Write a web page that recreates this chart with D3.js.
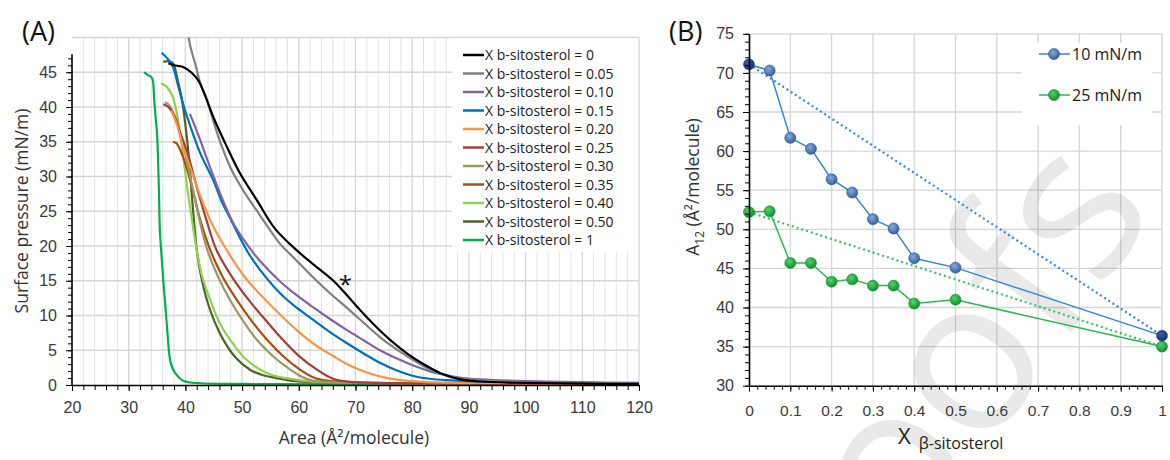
<!DOCTYPE html>
<html>
<head>
<meta charset="utf-8">
<script src="https://cdn.jsdelivr.net/npm/d3@7"></script>
<style>
  body { margin: 0; background: #fff; }
  svg { font-family: "Open Sans", sans-serif; }
  .grid line { stroke: #e2e2e2; stroke-width: 1; }
  .grid line.major { stroke: #d6d6d6; stroke-width: 1.3; }
  .axis path, .axis line { stroke: #000; }
  .axis text { fill: #3a3a3a; }
</style>
</head>
<body>
<svg width="1170" height="460"></svg>
<script>

// ---------- data : panel A, isotherms [area, pressure] ----------
var xSito = ["0", "0.05", "0.10", "0.15", "0.20", "0.25", "0.30", "0.35", "0.40", "0.50", "1"];
var lineColors = ["#000000", "#808080", "#8064a2", "#0070c0", "#f79646", "#a0403c",
                  "#9c9866", "#a5500f", "#92d050", "#4f6228", "#00b050"];

var iso000 = [[37.0,46.3],[38.0,46.0],[39.5,45.8],[41.0,45.0],[42.3,43.8],[43.5,41.6],[44.9,38.6],
  [47.3,34.3],[49.6,30.5],[52.6,26.6],[55.8,22.5],[59.6,19.4],[62.5,17.4],[66.1,15.0],[68.5,12.9],
  [70.8,10.8],[73.5,8.5],[76.1,6.5],[79.0,4.6],[82.0,3.0],[85.0,1.7],[88.5,0.8],[92,0.5],[100,0.3],[110,0.2],[120,0.15]];
var iso005 = [[40.2,52],[40.8,49],[41.8,46],[42.6,43.5],[43.8,41],[45.7,36],[48.0,31.2],[50.5,27.6],
  [53.0,24.6],[56.7,20.3],[59.5,18.0],[62.5,15.5],[65.5,13.2],[68.5,11.1],[71.5,8.9],[74.3,6.9],
  [77.3,5.1],[80.2,3.6],[83.0,2.3],[86.2,1.3],[89.7,0.8],[95,0.55],[105,0.35],[120,0.2]];
var iso010 = [[40.8,39],[42.5,35.5],[44.5,31],[46.5,26.8],[48.5,23.2],[50.8,20.3],[53.2,17.8],
  [56.7,14.9],[59.5,13.0],[62.5,11.2],[65.5,9.5],[68.5,7.9],[71.5,6.4],[74.3,5.0],[77.3,3.8],
  [80.2,2.8],[83.0,2.0],[86.2,1.4],[89,1.0],[92,0.8],[100,0.55],[110,0.4],[120,0.3]];
var iso015 = [[35.8,47.8],[36.8,47.0],[37.8,45.8],[38.8,42.8],[39.9,39.6],[41.4,36.0],[42.8,33.0],
  [44.9,29.5],[46.5,26.2],[47.9,24.0],[49.1,22.0],[51.4,18.6],[54.0,15.7],[56.7,13.2],[59.5,11.2],
  [62.5,9.4],[65.5,7.6],[68.5,6.0],[71.5,4.5],[74.3,3.2],[77.3,2.1],[80.2,1.3],[83,0.9],[86.2,0.7],
  [95,0.45],[110,0.3],[120,0.25]];
var iso020 = [[37.5,39.5],[38.5,37.5],[39.5,34.5],[41.0,31.0],[42.5,27.5],[44.5,23.5],[47.3,19.4],
  [50.5,15.5],[54.4,12.0],[57.0,9.9],[60.2,7.5],[63.0,5.7],[66.0,4.2],[69.0,2.8],[72,1.8],[75,1.1],
  [78,0.7],[82,0.45],[90,0.3],[120,0.15]];
var iso025 = [[36.1,40.4],[37.0,40.0],[38.0,38.8],[39.0,36.5],[40.5,33.0],[42.0,28.5],[43.8,23.5],
  [45.5,19.4],[48.5,15.2],[51.4,12.0],[54.5,9.0],[57.2,6.5],[60.0,4.2],[63.2,2.2],[65,1.3],[66.8,0.7],
  [70,0.4],[80,0.25],[120,0.1]];
var iso030 = [[36.4,40.7],[37.2,40.2],[38.2,38.5],[39.2,35.8],[40.3,32.0],[41.5,27.5],[42.7,23.0],
  [43.8,19.6],[45.8,15.5],[47.9,12.2],[50.2,9.2],[52.6,6.5],[55.5,4.1],[58.5,2.2],[60.5,1.2],[62,0.7],
  [66,0.4],[80,0.2],[120,0.1]];
var iso035 = [[37.8,35.0],[38.4,34.8],[39.5,33.0],[41.0,29.0],[42.7,23.5],[44.4,19.4],[46.6,15.5],
  [49.1,12.2],[51.7,9.2],[54.4,6.5],[57.3,4.1],[60.2,2.2],[62.3,1.2],[64.3,0.7],[68,0.4],[80,0.2],[120,0.1]];
var iso040 = [[35.7,43.4],[36.6,43.0],[37.8,41.4],[38.5,39.0],[39.0,36.7],[39.6,33.0],[40.3,28.5],
  [41.2,23.5],[42.0,19.4],[43.0,15.5],[44.4,12.2],[46.0,9.0],[47.9,6.5],[50.3,4.0],[53.2,2.2],
  [55.8,1.3],[58.5,0.9],[62,0.5],[70,0.3],[120,0.1]];
var iso050 = [[36.1,46.5],[37.0,46.6],[37.8,46.3],[38.6,44.0],[39.4,41.0],[40.3,35.3],[40.8,31.0],
  [41.2,26.6],[41.6,22.8],[42.0,19.4],[42.8,15.5],[43.8,12.2],[45.1,9.2],[46.7,6.5],[48.8,4.0],
  [51.4,2.2],[53.7,1.4],[56.1,1.0],[60,0.5],[70,0.3],[120,0.1]];
var iso100 = [[32.7,45.0],[33.4,44.6],[34.1,44.2],[34.5,41.0],[34.8,38.0],[35.0,36.2],[35.3,29.0],
  [35.5,22.3],[35.8,18.5],[36.1,15.1],[36.5,11.0],[36.8,7.9],[37.3,3.6],[37.8,2.3],[38.2,1.7],
  [39.4,0.7],[40.5,0.4],[42.6,0.25],[50,0.15],[120,0.1]];
var isotherms = [iso000, iso005, iso010, iso015, iso020, iso025, iso030, iso035, iso040, iso050, iso100];

var areaTicks = [20, 30, 40, 50, 60, 70, 80, 90, 100, 110, 120];
var pressTicks = [0, 5, 10, 15, 20, 25, 30, 35, 40, 45];

// ---------- data : panel B, mean molecular area ----------
var xFrac = [0, 0.05, 0.1, 0.15, 0.2, 0.25, 0.3, 0.35, 0.4, 0.5, 1];
var a10 = [71.1, 70.3, 61.7, 60.3, 56.4, 54.7, 51.3, 50.1, 46.3, 45.1, 36.4];
var a25 = [52.2, 52.3, 45.7, 45.7, 43.3, 43.6, 42.8, 42.8, 40.5, 41.0, 35.0];
var fracTicks = [0, 0.1, 0.2, 0.3, 0.4, 0.5, 0.6, 0.7, 0.8, 0.9, 1];
var areaBTicks = [30, 35, 40, 45, 50, 55, 60, 65, 70, 75];

var svg = d3.select("svg");

// gradients for the balls of panel B
var defs = svg.append("defs");
function ball(id, c0, c1) {
  var g = defs.append("radialGradient").attr("id", id)
      .attr("cx", "40%").attr("cy", "35%").attr("r", "65%");
  g.append("stop").attr("offset", "0%").attr("stop-color", c0);
  g.append("stop").attr("offset", "100%").attr("stop-color", c1);
}
ball("gBlue", "#86a9dc", "#36609f");
ball("gNavy", "#3d5f9c", "#14306a");
ball("gGreen", "#4fd46c", "#118f2f");

// ================= panel A =================
var xA = d3.scaleLinear().domain([20, 120]).range([72, 639]);
var yA = d3.scaleLinear().domain([0, 50]).range([385, 37.5]);

var gridA = svg.append("g").attr("class", "grid");
gridA.selectAll("line.v").data(d3.range(22, 121, 2))
  .enter().append("line")
    .attr("class", function(d) { return d % 10 == 0 ? "major" : "minor"; })
    .attr("x1", function(d) { return xA(d); }).attr("x2", function(d) { return xA(d); })
    .attr("y1", yA(50)).attr("y2", yA(0));
gridA.selectAll("line.h").data(d3.range(5, 51, 5))
  .enter().append("line")
    .attr("class", "major")
    .attr("x1", xA(20)).attr("x2", xA(120))
    .attr("y1", function(d) { return yA(d); }).attr("y2", function(d) { return yA(d); });

var lineA = d3.line()
    .x(function(d) { return xA(d[0]); })
    .y(function(d) { return yA(d[1]); })
    .curve(d3.curveCatmullRom.alpha(0.5));

svg.append("clipPath").attr("id", "clipA")
  .append("rect").attr("x", xA(20)).attr("y", yA(50)).attr("width", xA(120) - xA(20)).attr("height", yA(0) - yA(50));

// draw from last to first so black lies on top
svg.append("g").attr("clip-path", "url(#clipA)")
  .selectAll("path").data(isotherms.map(function(d, i) { return {pts: d, i: i}; }).reverse())
  .enter().append("path")
    .attr("d", function(d) { return lineA(d.pts); })
    .attr("fill", "none")
    .attr("stroke", function(d) { return lineColors[d.i]; })
    .attr("stroke-width", 2.2)
    .attr("stroke-linejoin", "round");

// axes A
svg.append("g").attr("class", "axis")
    .attr("transform", "translate(0," + yA(0) + ")")
    .call(d3.axisBottom(xA).tickValues(d3.range(20, 121, 2)).tickSize(5).tickFormat(""))
    .call(function(g) { g.select(".domain").remove(); });
var axA = svg.append("g").attr("class", "axis")
    .attr("transform", "translate(0," + yA(0) + ")")
    .call(d3.axisBottom(xA).tickValues(areaTicks).tickSize(6).tickPadding(11).tickSizeOuter(0));
axA.select(".domain").attr("stroke-width", 1.6);
axA.selectAll("text").style("font-size", "16px");

svg.append("g").attr("class", "axis")
    .attr("transform", "translate(" + xA(20) + ",0)")
    .call(d3.axisLeft(yA).tickValues(d3.range(0, 48, 1)).tickSize(4).tickFormat(""))
    .call(function(g) { g.select(".domain").remove(); });
var ayA = svg.append("g").attr("class", "axis")
    .attr("transform", "translate(" + xA(20) + ",0)")
    .call(d3.axisLeft(yA).tickValues(pressTicks).tickSize(6).tickPadding(9).tickSizeOuter(0));
ayA.select(".domain").attr("d", "M0," + yA(0) + "V" + yA(47.6)).attr("stroke-width", 1.6);
ayA.selectAll("text").style("font-size", "16px");

svg.append("text").attr("x", 354).attr("y", 444).attr("text-anchor", "middle")
    .style("font-size", "17.5px").attr("fill", "#333").text("Area (Å²/molecule)");
svg.append("text").attr("transform", "translate(28,211) rotate(-90)").attr("text-anchor", "middle")
    .style("font-size", "17.5px").attr("fill", "#333").text("Surface pressure (mN/m)");
svg.append("text").attr("x", 22).attr("y", 41).style("font-size", "27px").attr("fill", "#111").text("(A)");
svg.append("text").attr("x", xA(68.2)).attr("y", yA(13.2)).attr("text-anchor", "middle")
    .style("font-size", "24px").attr("fill", "#111").text("*");

// legend A
var legA = svg.append("g");
legA.append("rect").attr("x", 452).attr("y", 38).attr("width", 186).attr("height", 214).attr("fill", "#fff");
var legRow = d3.scaleLinear().domain([0, 10]).range([55, 240]);
legA.selectAll("line").data(xSito).enter().append("line")
    .attr("x1", 463).attr("x2", 484)
    .attr("y1", function(d, i) { return legRow(i); }).attr("y2", function(d, i) { return legRow(i); })
    .attr("stroke", function(d, i) { return lineColors[i]; })
    .attr("stroke-width", 2.5);
legA.selectAll("text").data(xSito).enter().append("text")
    .attr("x", 485).attr("y", function(d, i) { return legRow(i) + 5; })
    .style("font-size", "14px").attr("fill", "#222")
    .text(function(d) { return "X b-sitosterol = " + d; });

// ================= panel B =================
var xB = d3.scaleLinear().domain([0, 1]).range([749, 1162]);
var yB = d3.scaleLinear().domain([30, 75]).range([385.7, 33.8]);

var gridB = svg.append("g").attr("class", "grid");
gridB.selectAll("line.v").data(fracTicks.slice(1))
  .enter().append("line").attr("class", "major")
    .attr("x1", function(d) { return xB(d); }).attr("x2", function(d) { return xB(d); })
    .attr("y1", yB(75)).attr("y2", yB(30));
gridB.selectAll("line.h").data(areaBTicks.slice(1))
  .enter().append("line").attr("class", "major")
    .attr("x1", xB(0)).attr("x2", xB(1))
    .attr("y1", function(d) { return yB(d); }).attr("y2", function(d) { return yB(d); });

// watermark
svg.append("text")
    .attr("transform", "translate(1158,208) rotate(-55)")
    .attr("text-anchor", "end")
    .style("font-size", "215px")
    .attr("fill", "#000").attr("fill-opacity", 0.085)
    .text("Proofs");

var ptsB10 = xFrac.map(function(x, i) { return [x, a10[i]]; });
var ptsB25 = xFrac.map(function(x, i) { return [x, a25[i]]; });
var lineB = d3.line().x(function(d) { return xB(d[0]); }).y(function(d) { return yB(d[1]); });

// ideal mixing lines between pure components
svg.append("path").attr("d", lineB([ptsB10[0], ptsB10[ptsB10.length - 1]]))
    .attr("stroke", "#3a8ad6").attr("stroke-width", 2.2).attr("stroke-dasharray", "2,3").attr("fill", "none");
svg.append("path").attr("d", lineB([ptsB25[0], ptsB25[ptsB25.length - 1]]))
    .attr("stroke", "#3cc062").attr("stroke-width", 2.2).attr("stroke-dasharray", "2,3").attr("fill", "none");

svg.append("path").attr("d", lineB(ptsB10)).attr("stroke", "#3a86d0").attr("stroke-width", 1.5).attr("fill", "none");
svg.append("path").attr("d", lineB(ptsB25)).attr("stroke", "#2fb852").attr("stroke-width", 1.5).attr("fill", "none");

svg.append("g").selectAll("circle").data(ptsB25).enter().append("circle")
    .attr("cx", function(d) { return xB(d[0]); }).attr("cy", function(d) { return yB(d[1]); })
    .attr("r", 5.5).attr("fill", "url(#gGreen)").attr("stroke", "#148a32").attr("stroke-width", 0.6);
svg.append("g").selectAll("circle").data(ptsB10).enter().append("circle")
    .attr("cx", function(d) { return xB(d[0]); }).attr("cy", function(d) { return yB(d[1]); })
    .attr("r", 5.5)
    .attr("fill", function(d, i) { return (i == 0 || i == ptsB10.length - 1) ? "url(#gNavy)" : "url(#gBlue)"; })
    .attr("stroke", "#2c4f8a").attr("stroke-width", 0.6);

// axes B
svg.append("g").attr("class", "axis")
    .attr("transform", "translate(0," + yB(30) + ")")
    .call(d3.axisBottom(xB).tickValues(d3.range(0, 51).map(function(i) { return i / 50; })).tickSize(4).tickFormat(""))
    .call(function(g) { g.select(".domain").remove(); });
var axB = svg.append("g").attr("class", "axis")
    .attr("transform", "translate(0," + yB(30) + ")")
    .call(d3.axisBottom(xB).tickValues(fracTicks).tickSize(6).tickPadding(13).tickSizeOuter(0).tickFormat(d3.format("")));
axB.select(".domain").attr("stroke-width", 1.6);
axB.selectAll("text").style("font-size", "15.5px");

svg.append("g").attr("class", "axis")
    .attr("transform", "translate(" + xB(0) + ",0)")
    .call(d3.axisLeft(yB).tickValues(d3.range(30, 76, 1)).tickSize(4).tickFormat(""))
    .call(function(g) { g.select(".domain").remove(); });
var ayB = svg.append("g").attr("class", "axis")
    .attr("transform", "translate(" + xB(0) + ",0)")
    .call(d3.axisLeft(yB).tickValues(areaBTicks).tickSize(6).tickPadding(9).tickSizeOuter(0));
ayB.select(".domain").attr("stroke-width", 1.6);
ayB.selectAll("text").style("font-size", "16px");

var tB = svg.append("text").attr("transform", "translate(699,187) rotate(-90)").attr("text-anchor", "middle")
    .style("font-size", "17.5px").attr("fill", "#333");
tB.append("tspan").text("A");
tB.append("tspan").attr("dy", 5).style("font-size", "12px").text("12");
tB.append("tspan").attr("dy", -5).text(" (Å²/molecule)");

var tX = svg.append("text").attr("x", 898).attr("y", 444).attr("fill", "#222");
tX.append("tspan").style("font-size", "22px").text("X");
tX.append("tspan").attr("dx", 8).attr("dy", 5).style("font-size", "16px").text("β-sitosterol");

svg.append("text").attr("x", 669).attr("y", 41).style("font-size", "27px").attr("fill", "#111").text("(B)");

// legend B
var legB = svg.append("g");
legB.append("rect").attr("x", 1022).attr("y", 43).attr("width", 130).attr("height", 82).attr("fill", "#fff");
var legBItems = [{name: "10 mN/m", y: 54, line: "#3a86d0", fill: "url(#gBlue)", stroke: "#2c4f8a"},
                 {name: "25 mN/m", y: 95, line: "#2fb852", fill: "url(#gGreen)", stroke: "#148a32"}];
legB.selectAll("line").data(legBItems).enter().append("line")
    .attr("x1", 1039).attr("x2", 1070).attr("y1", function(d) { return d.y; }).attr("y2", function(d) { return d.y; })
    .attr("stroke", function(d) { return d.line; }).attr("stroke-width", 1.5);
legB.selectAll("circle").data(legBItems).enter().append("circle")
    .attr("cx", 1054).attr("cy", function(d) { return d.y; }).attr("r", 5.5)
    .attr("fill", function(d) { return d.fill; }).attr("stroke", function(d) { return d.stroke; }).attr("stroke-width", 0.6);
legB.selectAll("text").data(legBItems).enter().append("text")
    .attr("x", 1072).attr("y", function(d) { return d.y + 6; })
    .style("font-size", "16px").attr("fill", "#222")
    .text(function(d) { return d.name; });

</script>
</body>
</html>
